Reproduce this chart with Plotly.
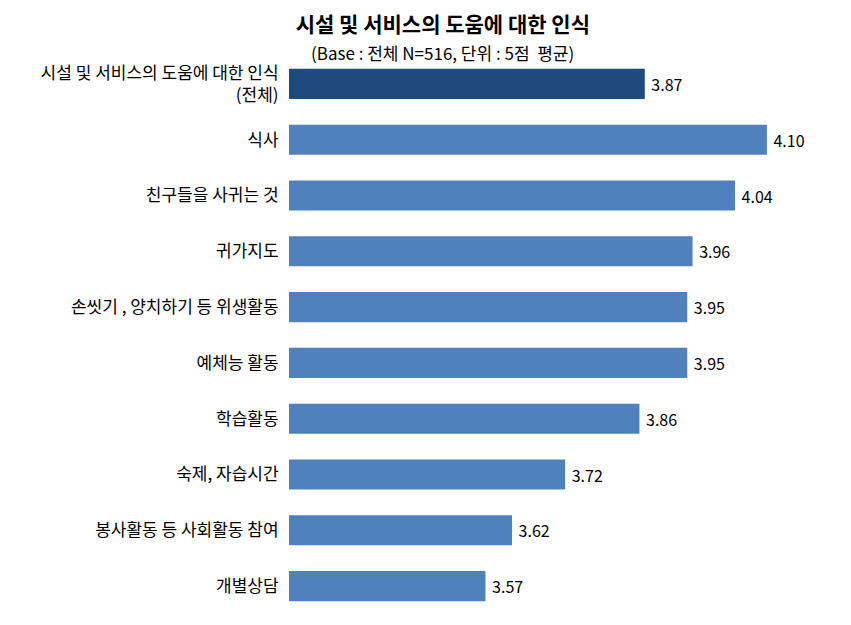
import plotly.graph_objects as go

categories = ["시설 및 서비스의 도움에 대한 인식<br>(전체)", "식사", "친구들을 사귀는 것", "귀가지도",
              "손씻기 , 양치하기 등 위생활동", "예체능 활동", "학습활동", "숙제, 자습시간",
              "봉사활동 등 사회활동 참여", "개별상담"]
values = [3.87, 4.10, 4.04, 3.96, 3.95, 3.95, 3.86, 3.72, 3.62, 3.57]
colors = ["#1F4A7E"] + ["#4F81BD"] * 9

FONT = "Malgun Gothic, Noto Sans CJK KR, sans-serif"

fig = go.Figure(go.Bar(
    y=categories, x=values, orientation="h",
    marker=dict(color=colors, line=dict(width=0)),
    width=0.54,
    text=[f" {v:.2f}" for v in values], textposition="outside",
    textfont=dict(size=16, color="#000000", family=FONT),
    cliponaxis=False,
))

fig.update_layout(
    width=851, height=625,
    margin=dict(l=281, r=39, t=48, b=19),
    paper_bgcolor="white", plot_bgcolor="white",
    font=dict(family=FONT, color="#000000"),
    title=dict(text="<b>시설 및 서비스의 도움에 대한 인식</b>", x=0.511, xanchor="center",
               y=0.974, yanchor="middle", font=dict(size=21, family=FONT)),
    showlegend=False,
    xaxis=dict(range=[3.2, 4.2], visible=False, automargin=False),
    yaxis=dict(autorange="reversed", showgrid=False, zeroline=False, showline=False,
               automargin=False,
               ticks="outside", ticklen=6, tickcolor="rgba(0,0,0,0)",
               tickfont=dict(size=17, family=FONT)),
    annotations=[dict(text="(Base : 전체 N=516, 단위 : 5점  평균)", xref="paper", yref="paper",
                      x=0.29, y=1.0, xanchor="center", yanchor="middle", yshift=4,
                      showarrow=False, font=dict(size=17, family=FONT))],
)

fig.write_html("out.html")
